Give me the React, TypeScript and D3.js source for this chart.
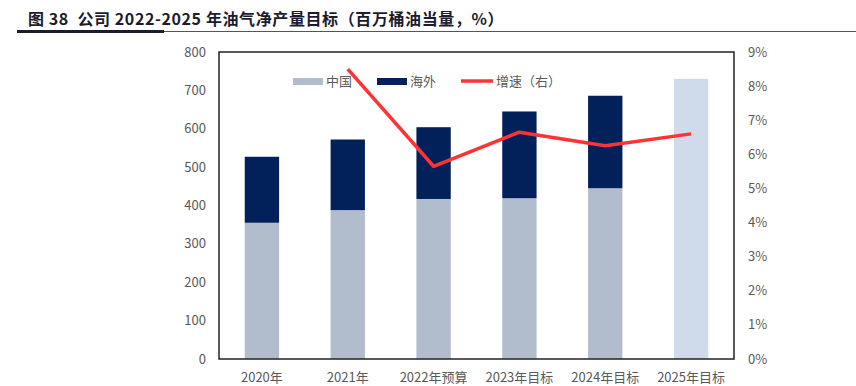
import React from 'react';
import * as d3 from 'd3';

const categories = ['2020年', '2021年', '2022年预算', '2023年目标', '2024年目标', '2025年目标'];
const chinaValues = [355, 388, 417, 419, 445];
const overseasValues = [172, 184, 187, 226, 241];
const target2025 = 730;
const growthCats = ['2021年', '2022年预算', '2023年目标', '2024年目标', '2025年目标'];
const growthValues = [8.5, 5.65, 6.65, 6.25, 6.6];
const leftTicks = [0, 100, 200, 300, 400, 500, 600, 700, 800];
const rightTicks = [0, 1, 2, 3, 4, 5, 6, 7, 8, 9];

const W = 856;
const H = 386;
const plot = { left: 219, right: 734, top: 52, bottom: 359 };
const font = '"Noto Sans CJK SC", "Noto Sans", sans-serif';
const tickColor = '#595959';

export default function App() {
  const x = d3.scaleBand<string>()
    .domain(categories)
    .range([plot.left, plot.right])
    .paddingInner(0.6)
    .paddingOuter(0.3);

  const yLeft = d3.scaleLinear().domain([0, 800]).range([plot.bottom, plot.top]);
  const yRight = d3.scaleLinear().domain([0, 9]).range([plot.bottom, plot.top]);

  const stacked = chinaValues.map((c, i) => ({
    cat: categories[i],
    china: c,
    total: c + overseasValues[i],
  }));

  const line = d3.line<number>()
    .x((_, i) => (x(growthCats[i]) as number) + x.bandwidth() / 2)
    .y((d) => yRight(d));

  return (
    <svg width={W} height={H} style={{ position: 'absolute', left: 0, top: 0, background: '#fff' }}>
      {/* title */}
      <text x={28} y={25} fontFamily={font} fontWeight="bold" fontSize={16} fill="#1c1c2c"
        letterSpacing={0.6} xmlSpace="preserve" style={{ whiteSpace: 'pre' }}>
        {'图 38  公司 2022-2025 年油气净产量目标（百万桶油当量，%）'}
      </text>
      <line x1={17} x2={W} y1={31.5} y2={31.5} stroke="#555" strokeWidth={1} />
      <rect x={17} y={30} width={147} height={3} fill="#1c1c2c" />

      {/* bars */}
      {stacked.map((d) => (
        <g key={d.cat}>
          <rect x={x(d.cat)} y={yLeft(d.china)} width={x.bandwidth()} height={yLeft(0) - yLeft(d.china)} fill="#b1bccd" />
          <rect x={x(d.cat)} y={yLeft(d.total)} width={x.bandwidth()} height={yLeft(d.china) - yLeft(d.total)} fill="#02215a" />
        </g>
      ))}
      <rect
        x={x('2025年目标')}
        y={yLeft(target2025)}
        width={x.bandwidth()}
        height={yLeft(0) - yLeft(target2025)}
        fill="#cfdbea"
      />

      {/* frame */}
      <rect x={plot.left} y={plot.top} width={plot.right - plot.left} height={plot.bottom - plot.top}
        fill="none" stroke="#222" strokeWidth={1.5} />

      {/* growth line */}
      <path d={line(growthValues) || ''} fill="none" stroke="#ff3333" strokeWidth={3.5} strokeLinejoin="round" />

      {/* left axis */}
      {leftTicks.map((t) => (
        <text key={t} x={206} y={yLeft(t)} dy="0.35em" textAnchor="end" fontFamily={font} fontSize={13} fill={tickColor}>
          {t}
        </text>
      ))}

      {/* right axis */}
      {rightTicks.map((t) => (
        <text key={t} x={748} y={yRight(t)} dy="0.35em" textAnchor="start" fontFamily={font} fontSize={13} fill={tickColor}>
          {t}%
        </text>
      ))}

      {/* x labels */}
      {categories.map((c) => (
        <text key={c} x={(x(c) as number) + x.bandwidth() / 2} y={377} dy="0.35em" textAnchor="middle"
          fontFamily={font} fontSize={13} fill={tickColor}>
          {c}
        </text>
      ))}

      {/* legend */}
      <g fontFamily={font} fontSize={13} fill={tickColor}>
        <rect x={293} y={78} width={30} height={7} fill="#b1bccd" />
        <text x={326} y={81} dy="0.35em">中国</text>
        <rect x={377} y={78} width={30} height={7} fill="#02215a" />
        <text x={410} y={81} dy="0.35em">海外</text>
        <line x1={461} x2={493} y1={81} y2={81} stroke="#ff3333" strokeWidth={3.5} />
        <text x={496} y={81} dy="0.35em">增速（右）</text>
      </g>
    </svg>
  );
}
